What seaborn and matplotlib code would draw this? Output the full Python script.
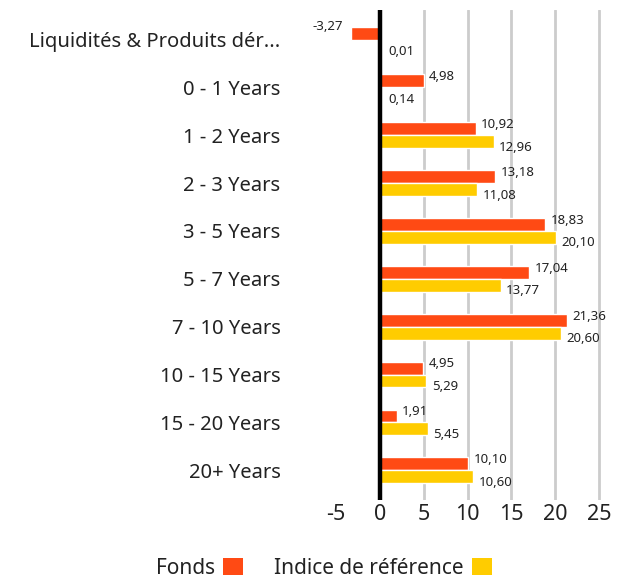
import matplotlib
matplotlib.use("Agg")
import matplotlib.pyplot as plt
import seaborn as sns
import pandas as pd
from matplotlib.patches import Patch

categories = ["Liquidités & Produits dér...", "0 - 1 Years", "1 - 2 Years", "2 - 3 Years",
              "3 - 5 Years", "5 - 7 Years", "7 - 10 Years", "10 - 15 Years",
              "15 - 20 Years", "20+ Years"]
fonds = [-3.27, 4.98, 10.92, 13.18, 18.83, 17.04, 21.36, 4.95, 1.91, 10.10]
indice = [0.01, 0.14, 12.96, 11.08, 20.10, 13.77, 20.60, 5.29, 5.45, 10.60]
series_names = ["Fonds", "Indice de référence"]
xticks = [-5, 0, 5, 10, 15, 20, 25]

colors = {"Fonds": "#FF4A14", "Indice de référence": "#FFCC00"}

df = pd.DataFrame({
    "cat": categories * 2,
    "val": fonds + indice,
    "series": [series_names[0]] * len(categories) + [series_names[1]] * len(categories),
})

sns.set_theme(style="white")
plt.rcParams["font.family"] = ["Noto Sans", "DejaVu Sans"]

fig = plt.figure(figsize=(6.26, 5.8), dpi=100)
ax = fig.add_axes([0.537, 0.138, 0.434, 0.845])

sns.barplot(data=df, y="cat", x="val", hue="series", orient="h",
            palette=colors, width=0.54, saturation=1, legend=False, ax=ax)

ax.set_xlim(-5, 26)
ax.set_ylim(9.62, -0.62)
ax.set_xticks(xticks)
ax.set_xticklabels([str(t) for t in xticks])
ax.set_xlabel("")
ax.set_ylabel("")
for s in ax.spines.values():
    s.set_visible(False)

ax.xaxis.grid(True, color="#CCCCCC", lw=2)
ax.set_axisbelow(True)
gl = ax.get_xgridlines()
for t, line in zip(xticks, gl):
    if t <= 0:
        line.set_visible(False)

ax.axvline(0, color="black", lw=3.2, zorder=4)

ax.tick_params(axis="x", length=0, labelsize=15.5, colors="#222222", pad=3)
ax.tick_params(axis="y", length=0, labelsize=14.5, colors="#222222", pad=40)

# value labels
for ci, cont in enumerate(ax.containers):
    dy = 3 if ci == 0 else -4
    for bar, v in zip(cont, fonds if ci == 0 else indice):
        y = bar.get_y() + bar.get_height() / 2
        txt = f"{v:.2f}".replace(".", ",")
        if v < 0:
            ax.annotate(txt, (v, y), xytext=(-6, dy + 2), textcoords="offset points",
                        ha="right", va="center", fontsize=9.5, color="#222222")
        else:
            ax.annotate(txt, (max(v, 0.3), y), xytext=(4, dy), textcoords="offset points",
                        ha="left", va="center", fontsize=9.5, color="#222222")

handles = [Patch(facecolor=colors[n], edgecolor="none", label=n) for n in series_names]
fig.legend(handles=handles, loc="lower center", bbox_to_anchor=(0.517, -0.03), ncol=2,
           frameon=False, markerfirst=False, fontsize=15, handlelength=0.95,
           handleheight=0.95, handletextpad=0.4, columnspacing=1.5,
           labelcolor="#222222")

fig.savefig("out.png", dpi=100)
